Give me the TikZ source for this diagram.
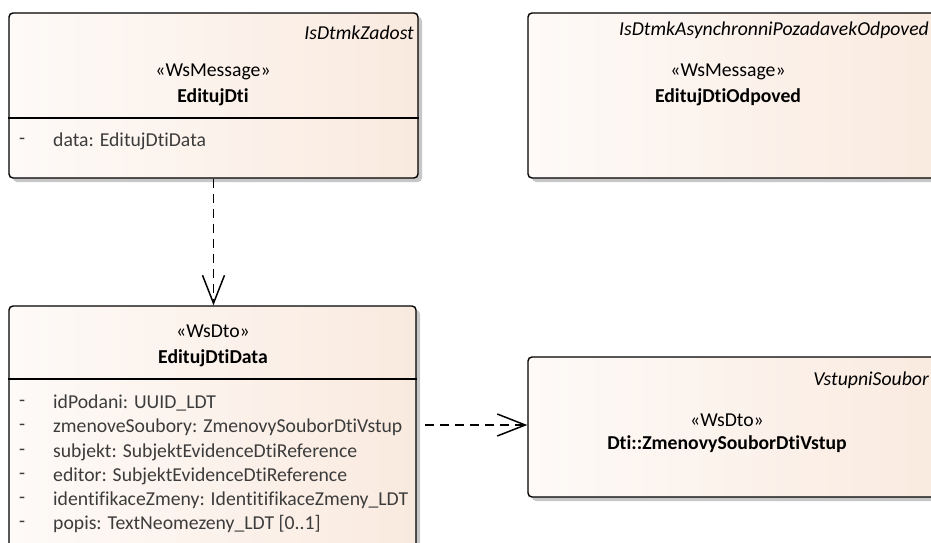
\documentclass[tikz,border=0pt]{standalone}
\usepackage{fontspec}
\setmainfont{Carlito}[Ligatures=NoCommon]
\usetikzlibrary{arrows.meta,shadows}
\definecolor{peach}{RGB}{247,226,211}
\definecolor{peachlight}{RGB}{254,251,249}
\definecolor{attr}{RGB}{60,60,60}
\pgfdeclarehorizontalshading{uml}{100bp}{color(0bp)=(peach); color(22bp)=(peachlight); color(100bp)=(peach)}
\tikzset{
  umlbox/.style={draw=black, line width=1.4pt, rounded corners=4pt, shading=uml,
    drop shadow={shadow xshift=4pt, shadow yshift=-4pt, fill=black!22, opacity=1},
    inner sep=0pt},
  stereo/.style={font=\fontsize{19.7}{22}\selectfont, inner sep=0pt},
  cname/.style={font=\fontsize{19.7}{22}\selectfont\bfseries, inner sep=0pt},
  tag/.style={font=\fontsize{19.7}{22}\selectfont\itshape, inner sep=0pt, anchor=east},
  attrtxt/.style={font=\fontsize{19.7}{22}\selectfont, text=attr, inner sep=0pt, anchor=west},
  divider/.style={line width=1.4pt},
  dep/.style={line width=1.6pt, dash pattern=on 9pt off 6pt, -{Straight Barb[length=28pt, width=22pt, line width=1.5pt]}}
}
\begin{document}
\begin{tikzpicture}[x=1pt, y=-1pt]
\useasboundingbox (0,0) rectangle (931,543);
\clip (0,0) rectangle (931,543);
% boxes
\node[umlbox, minimum width=409pt, minimum height=165pt] (b1) at (213.5,95.5) {};
\node[umlbox, minimum width=417pt, minimum height=165pt] (b2) at (736.5,95.5) {};
\node[umlbox, minimum width=407pt, minimum height=254pt] (b3) at (212.5,433) {};
\node[umlbox, minimum width=417pt, minimum height=140pt] (b4) at (736.5,427) {};
% box 1
\node[tag] (t1) at (414,33) {IsDtmkZadost};
\node[stereo] (s1) at (213,72) {«WsMessage»};
\node[cname] (n1) at (213,97) {EditujDti};
\draw[divider] (b1.west |- 0,118) -- (b1.east |- 0,118);
\node[attrtxt] (d1) at (19,141) {-};
\node[attrtxt] (a1) at (53,141) {data: EditujDtiData};
% box 2
\node[tag] (t2) at (929,30) {IsDtmkAsynchronniPozadavekOdpoved};
\node[stereo] (s2) at (728,72) {«WsMessage»};
\node[cname] (n2) at (728,97) {EditujDtiOdpoved};
% box 3
\node[stereo] (s3) at (213,331) {«WsDto»};
\node[cname] (n3) at (213,358) {EditujDtiData};
\draw[divider] (b3.west |- 0,379) -- (b3.east |- 0,379);
\foreach \y/\t [count=\i] in {403/{idPodani: UUID\_LDT},
  427/{zmenoveSoubory: ZmenovySouborDtiVstup},
  452/{subjekt: SubjektEvidenceDtiReference},
  476/{editor: SubjektEvidenceDtiReference},
  500/{identifikaceZmeny: IdentitifikaceZmeny\_LDT},
  524/{popis: TextNeomezeny\_LDT [0..1]}} {
  \node[attrtxt] (dash\i) at (19,\y) {-};
  \node[attrtxt] (attr\i) at (53,\y) {\t};
}
% box 4
\node[tag] (t4) at (929,380) {VstupniSoubor};
\node[stereo] (s4) at (727,420) {«WsDto»};
\node[cname] (n4) at (727,444) {Dti::ZmenovySouborDtiVstup};
% connectors
\draw[dep] (b1.south) -- (b1.south |- b3.north);
\coordinate (src) at (425,425);
\draw[dep] (src) -- (b4.west |- src);
\end{tikzpicture}
\end{document}
